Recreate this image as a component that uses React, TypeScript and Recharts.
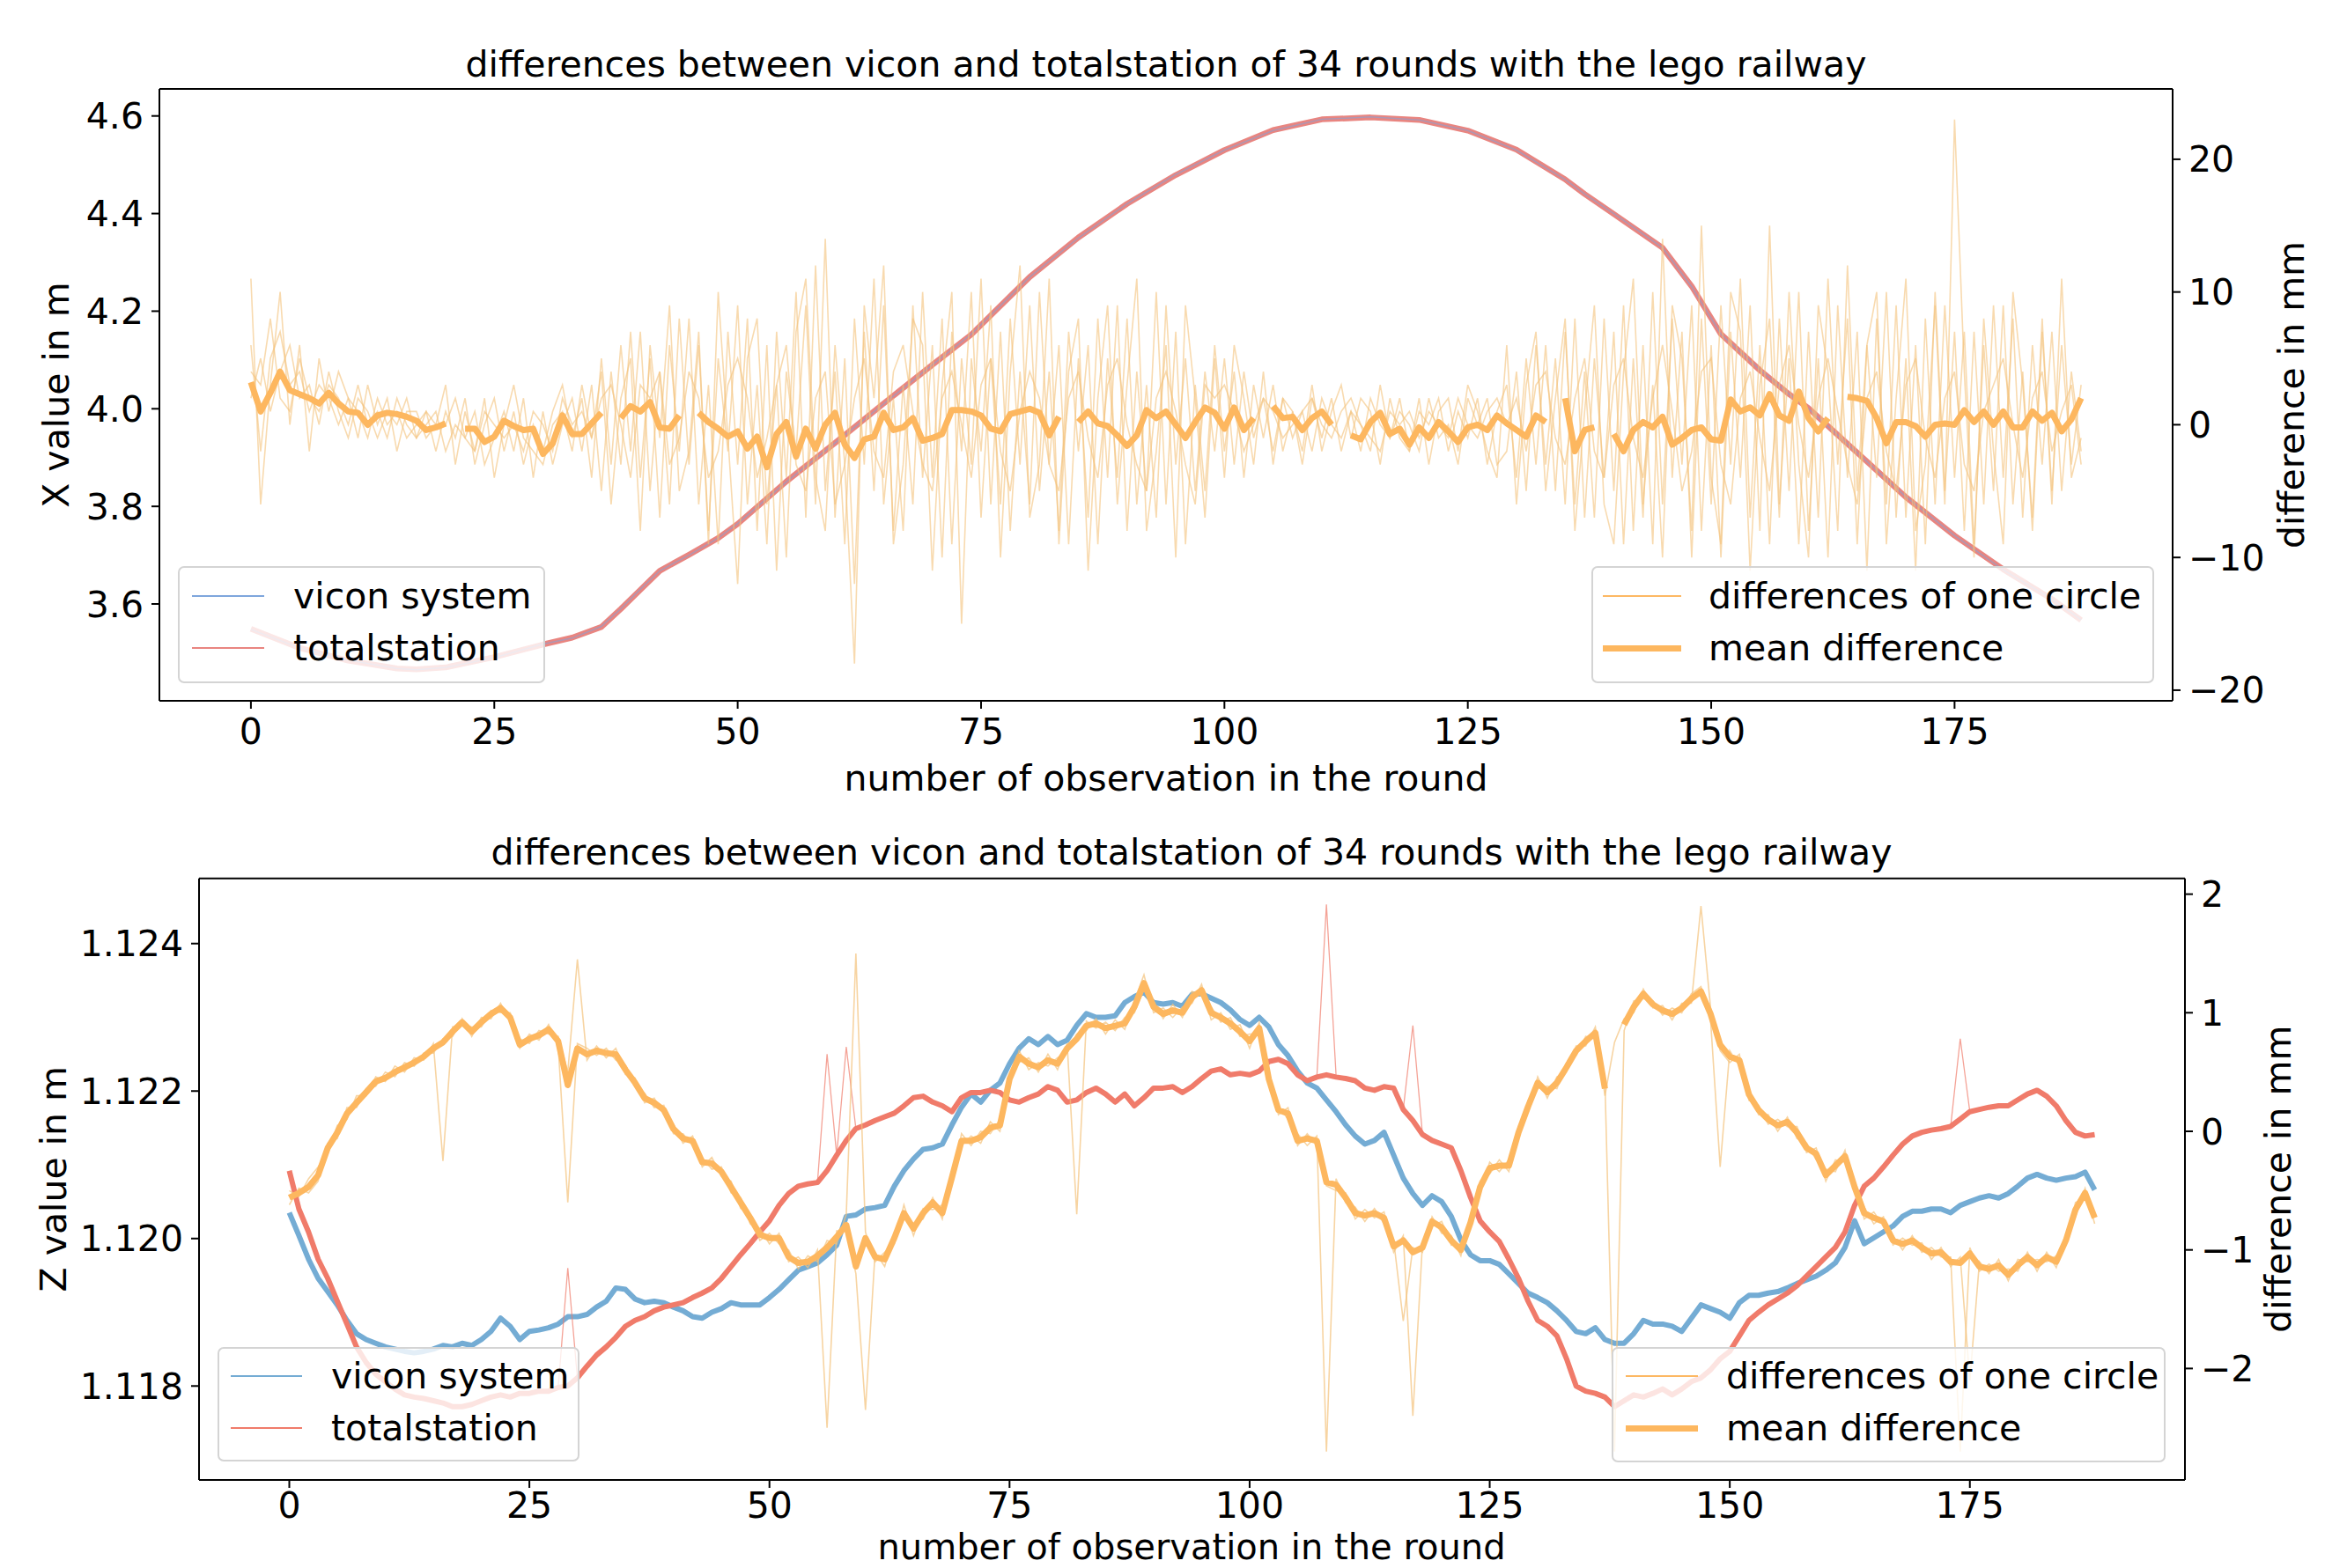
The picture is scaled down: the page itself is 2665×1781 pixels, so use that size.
import React from "react";
import { LineChart, Line, XAxis, YAxis } from "recharts";

// observation number within a round (0..188)
const OBS = Array.from({ length: 189 }, (_, i) => i);

// ---- upper plot: X coordinate (m) ----
const TOP_X_OBS = [0, 5, 10, 15, 17, 20, 25, 30, 33, 36, 38, 40, 42, 45, 48, 50, 55, 60, 65, 70, 74, 80, 85, 90, 95, 100, 105, 110, 115, 120, 125, 130, 135, 137, 140, 145, 148, 151, 155, 158, 160, 165, 170, 175, 180, 185, 188];
const TOP_VICON_X = [3.548, 3.51, 3.485, 3.468, 3.465, 3.47, 3.49, 3.518, 3.53, 3.554, 3.59, 3.63, 3.668, 3.7, 3.735, 3.765, 3.85, 3.93, 4.01, 4.09, 4.153, 4.27, 4.35, 4.42, 4.48, 4.53, 4.57, 4.593, 4.598, 4.592, 4.57, 4.53, 4.47, 4.44, 4.4, 4.33, 4.25, 4.153, 4.08, 4.03, 4.0, 3.91, 3.82, 3.74, 3.67, 3.61, 3.568];
const TOP_TOTAL_X = [3.549, 3.51, 3.484, 3.468, 3.466, 3.47, 3.491, 3.517, 3.531, 3.553, 3.59, 3.629, 3.668, 3.701, 3.735, 3.764, 3.851, 3.93, 4.011, 4.09, 4.152, 4.27, 4.351, 4.42, 4.479, 4.53, 4.571, 4.593, 4.597, 4.592, 4.57, 4.531, 4.47, 4.44, 4.399, 4.33, 4.251, 4.153, 4.079, 4.03, 4.001, 3.91, 3.819, 3.74, 3.671, 3.61, 3.567];

// ---- upper plot: differences (mm) ----
const TOP_MEAN = [
  3.2, 1.0, 2.4, 4.0, 2.6, 2.3, 2.0, 1.6, 2.4, 1.6,
  1.0, 0.9, 0.0, 0.7, 0.9, 0.8, 0.6, 0.3, -0.4, -0.2,
  0.1, null, -0.3, -0.3, -1.3, -0.9, 0.3, -0.1, -0.4, -0.3,
  -2.2, -1.4, 0.7, -0.7, -0.7, 0.1, 0.9, null, 0.5, 1.4,
  1.0, 1.7, -0.2, -0.3, 0.7, null, 0.9, 0.2, -0.3, -0.9,
  -0.5, -1.8, -0.9, -3.2, -0.7, 0.2, -2.4, -0.3, -1.8, 0.0,
  0.9, -1.5, -2.5, -1.1, -0.9, 0.9, -0.4, -0.2, 0.5, -1.2,
  -1.0, -0.7, 1.1, 1.1, 1.0, 0.7, -0.3, -0.5, 0.8, 1.0,
  1.2, 0.9, -0.8, 0.6, null, 0.2, 1.0, 0.1, -0.1, -0.8,
  -1.6, -0.8, 1.1, 0.5, 1.0, 0.0, -1.0, 0.2, 1.3, 0.9,
  -0.3, 1.3, -0.4, 0.5, null, 1.4, 0.5, 0.6, -0.4, 0.5,
  1.0, 0.0, null, -0.8, -1.1, 0.2, 0.9, -0.7, -0.3, -1.5,
  -0.2, -1.0, 0.2, -0.5, -1.3, -0.2, 0.0, -0.4, 0.7, 0.1,
  -0.4, -0.9, 0.7, 0.2, null, 2.0, -2.0, -0.4, -0.2, null,
  -0.7, -2.0, -0.4, 0.2, -0.2, 0.6, -1.5, -1.0, -0.4, -0.2,
  -1.1, -1.2, 1.9, 1.0, 1.3, 0.7, 2.3, 0.7, 0.3, 2.5,
  0.5, -0.5, 0.5, null, 2.1, 2.0, 1.8, 0.5, -1.4, 0.2,
  0.2, -0.1, -0.9, 0.0, 0.1, 0.0, 1.1, 0.2, 1.0, 0.0,
  1.0, -0.2, -0.2, 1.0, 0.3, 0.9, -0.5, 0.4, 2.0,
];
const TOP_ROUND_A = [
  6, -2, 5, 7, 3, 4, 1, 3, 2, 0,
  2, 1, -1, 2, 0, 1, -1, 0, 1, -2,
  1, -1, 2, -3, 0, 2, -2, 1, -3, 0,
  -2, 1, 3, -1, 2, -4, 5, -3, 6, -2,
  7, -5, 4, -6, 8, -3, 6, -8, 5, -2,
  9, -6, 3, -9, 7, -4, 10, -7, 12, -5,
  4, -9, 8, -3, 11, -6, 2, -8, 9, -4,
  6, -10, 7, -2, 10, -7, 5, -6, 8, -3,
  9, -5, 4, -8, 7, -2, 6, -9, 5, -4,
  8, -6, 3, -7, 9, -3, 5, -5, 4, -2,
  5, -3, 4, -1, 2, -2, 2, -1, 1, -2,
  2, 0, -1, 1, -2, 2, 0, -1, 2, -2,
  1, 0, 2, -2, 1, -1, 2, -3, 1, 3,
  -4, 5, -3, 6, -5, 7, -6, 4, -7, 8,
  -5, 9, -8, 6, -9, 14, -4, 7, -10, 8,
  -6, 9, -3, 11, -7, 6, -9, 8, -5, 10,
  -8, 5, -10, 9, -4, 7, -11, 8, -6, 9,
  -7, 6, -9, 10, -5, 7, -8, 7, -6, 9,
  -4, 8, -7, 6, -3, 7, -5, 4, -2,
];
const TOP_ROUND_B = [
  2, 5, 1, 4, 6, 2, 3, 0, 4, 1,
  -1, 2, 1, -1, 1, 0, 2, -1, 0, 1,
  -2, 0, -1, 1, -3, -1, 1, -2, 2, -4,
  1, -3, 0, 2, -2, 3, -5, 4, -3, 7,
  -4, 5, -7, 6, -2, 8, -6, 3, -9, 7,
  -3, 8, -8, 6, -11, 4, -2, 9, -6, 14,
  -7, 5, -12, 7, -5, 9, -8, 3, -6, 10,
  -4, 8, -9, 5, -3, 11, -6, 7, -8, 4,
  -6, 10, -3, 6, -9, 5, -7, 8, -4, 9,
  -8, 4, -5, 10, -6, 7, -9, 3, -5, 6,
  -2, 4, -4, 3, -1, 3, -2, 1, -3, 2,
  -1, 2, -2, 1, 0, -2, 3, -1, 1, 0,
  -2, 2, -1, 0, -3, 2, 0, 2, -3, -2,
  4, -5, 6, -3, 5, -6, 8, -7, 5, -4,
  7, -9, 5, -7, 10, -6, 8, -3, 9, -8,
  6, -10, 7, -4, 9, -8, 15, -6, 5, -9,
  7, -7, 11, -3, 8, -9, 6, -4, 10, -7,
  5, -11, 8, -6, 9, -4, 7, -9, 6, -5,
  9, -6, 4, -8, 7, -5, 6, -3, 3,
];
const TOP_ROUND_C = [
  4, 3, 8, 2, 1, 5, 2, 1, 3, 2,
  0, 3, 0, 1, -1, 2, 0, -1, 1, 0,
  0, 2, -1, -2, 1, 0, -1, 0, -2, 1,
  0, -2, 2, 0, 1, -1, 2, 3, 0, -4,
  3, 2, 4, -3, -1, 4, 2, -4, -2, 3,
  5, 2, -4, -1, 3, 6, -3, -5, 2, 4,
  -6, -3, 2, 5, -2, -4, 4, 6, 1, -3,
  -5, 2, 4, 0, -4, 3, 5, -2, -5, 1,
  4, 2, -3, -5, 2, 4, -1, -4, 3, 5,
  0, -3, -5, 2, 4, 1, -3, -6, 3, 2,
  3, 1, -2, 0, 2, 1, -1, 0, 1, 2,
  0, -1, 1, 2, 0, -1, -2, 1, 0, 1,
  -1, 1, 0, -1, 2, 0, -1, 1, 2, 0,
  2, -2, 3, 4, -1, -3, 2, 5, -2, -4,
  3, 5, -1, -4, 2, 6, 1, -5, -2, 4,
  5, -3, -6, 2, 4, -1, -5, 3, 6, 0,
  -4, 2, 5, 1, -3, -6, 2, 4, -2, -5,
  3, 5, -1, -4, 2, 4, -3, -5, 1, 3,
  5, 0, -4, 2, 4, -2, 1, 3, -3,
];
const TOP_ROUND_D = [
  11, -6, 3, 10, 0, 6, -2, 5, 1, 4,
  2, -1, 3, 0, 2, -2, 1, 1, -1, 0,
  3, -3, 1, -2, 2, -4, 0, 3, -1, -2,
  -3, 0, 1, -2, 3, -1, 4, -6, 2, 5,
  -8, 6, -1, 9, -5, -2, 7, -9, 10, -1,
  -12, 5, 8, -6, 3, -10, 7, 11, -4, -8,
  6, -3, -18, 9, 2, 12, -9, -3, 8, 6,
  -11, 3, 10, -15, 5, -2, 9, -10, 4, 12,
  -7, -3, 11, -9, 4, 8, -11, 2, 9, -6,
  3, 11, -8, -2, 6, -10, 9, 2, -7, 5,
  -4, 6, 2, -3, 4, -3, 2, 1, -2, 3,
  -2, 1, 3, -1, 2, 1, -3, 2, -1, -2,
  2, -3, 1, 2, -2, 3, 1, -2, -4, 6,
  -6, 3, 7, -5, 2, 8, -8, 1, 9, -6,
  -9, 4, 11, -6, 3, -10, 9, 5, -8, 15,
  -4, -9, 10, 7, -11, 3, 8, -7, 10, -3,
  -10, 9, 4, -8, 12, -5, 6, 10, -9, 2,
  11, -8, -3, 9, -6, 23, 4, -10, 8, -2,
  -9, 10, 3, -7, 8, -6, 11, -4, -1,
];

// ---- lower plot: Z coordinate (m) ----
const BOT_VICON_Z = [
  1.12035, 1.12004, 1.11972, 1.11946, 1.11928, 1.1191, 1.11889, 1.11871, 1.11863, 1.11858,
  1.11853, 1.1185, 1.11847, 1.11845, 1.11847, 1.1185, 1.11855, 1.11853, 1.11858, 1.11855,
  1.11863, 1.11874, 1.11892, 1.11881, 1.11863, 1.11874, 1.11876, 1.11879, 1.11884, 1.11894,
  1.11894, 1.11897, 1.11907, 1.11915, 1.11933, 1.11931, 1.11918, 1.11913, 1.11915, 1.11913,
  1.11907, 1.11902, 1.11894, 1.11892, 1.119, 1.11905, 1.11913, 1.1191, 1.1191, 1.1191,
  1.1192, 1.11931, 1.11944, 1.11957, 1.11962, 1.11967, 1.11978, 1.11991, 1.1203, 1.12032,
  1.1204, 1.12042, 1.12045, 1.12071, 1.12092, 1.12108, 1.12121, 1.12123, 1.12128, 1.12154,
  1.12178, 1.12196, 1.12185, 1.12201, 1.12211, 1.12237, 1.12258, 1.12271, 1.12263, 1.12274,
  1.12263, 1.12269, 1.12289, 1.12305, 1.123, 1.123, 1.12302, 1.1232, 1.12328, 1.12334,
  1.1232, 1.12318, 1.1232, 1.12315, 1.12331, 1.12332, 1.12326, 1.1232, 1.1231, 1.12297,
  1.12289, 1.123, 1.12287, 1.12263, 1.12248, 1.12227, 1.12211, 1.12204, 1.12188, 1.12172,
  1.12154, 1.12139, 1.12128, 1.12133, 1.12144, 1.12113, 1.12082, 1.12061, 1.12045, 1.12058,
  1.1205, 1.1203, 1.11998, 1.11978, 1.1197, 1.1197, 1.11965, 1.11952, 1.11939, 1.11926,
  1.1192, 1.11913, 1.11902, 1.11889, 1.11874, 1.11871, 1.11879, 1.11863, 1.11858, 1.11858,
  1.11871, 1.11889, 1.11884, 1.11884, 1.11881, 1.11874, 1.11892, 1.1191, 1.11905, 1.119,
  1.11892, 1.11913, 1.11923, 1.11923, 1.11926, 1.11928, 1.11933, 1.11939, 1.11944, 1.11949,
  1.11957, 1.11967, 1.11988, 1.12024, 1.11993, 1.12001, 1.12009, 1.12017, 1.1203, 1.12037,
  1.12037, 1.1204, 1.1204, 1.12035, 1.12045, 1.1205, 1.12055, 1.12058, 1.12055, 1.12061,
  1.12071, 1.12082, 1.12087, 1.12082, 1.12079, 1.12082, 1.12084, 1.1209, 1.12066,
];
const BOT_TOTAL_Z = [
  1.12092, 1.1204, 1.12009, 1.11972, 1.11946, 1.11915, 1.11884, 1.11853, 1.11832, 1.11816,
  1.11806, 1.11796, 1.11788, 1.11785, 1.11783, 1.1178, 1.11777, 1.11772, 1.11772, 1.11775,
  1.1178, 1.11785, 1.11788, 1.11785, 1.1179, 1.1179, 1.11793, 1.11793, 1.11798, 1.118,
  1.11811, 1.11827, 1.11842, 1.11853, 1.11866, 1.11881, 1.11889, 1.11894, 1.11902, 1.11907,
  1.1191, 1.11913, 1.1192, 1.11926, 1.11933, 1.11946, 1.11962, 1.11978, 1.11993, 1.12009,
  1.12024, 1.12045, 1.12061, 1.12071, 1.12074, 1.12076, 1.12092, 1.12113, 1.12133, 1.12149,
  1.12154, 1.1216, 1.12165, 1.1217, 1.1218, 1.12191, 1.12193, 1.12185, 1.1218, 1.12172,
  1.12191, 1.12198, 1.12198, 1.12201, 1.12198, 1.12188, 1.12185, 1.12191, 1.12196, 1.12206,
  1.12201, 1.12185, 1.12188, 1.12198, 1.12204, 1.12196, 1.12185, 1.12196, 1.1218, 1.12191,
  1.12204, 1.12204, 1.12206, 1.12198, 1.12206, 1.12217, 1.12227, 1.1223, 1.12222, 1.12224,
  1.12222, 1.12227, 1.1224, 1.12243, 1.12237, 1.12222, 1.12214, 1.12219, 1.12222, 1.12219,
  1.12217, 1.12214, 1.12204, 1.12201, 1.12206, 1.12204, 1.12175, 1.1216, 1.12141, 1.12133,
  1.12128, 1.12123, 1.12092, 1.12056, 1.12024, 1.12009, 1.11996, 1.11972, 1.11946, 1.11915,
  1.11889, 1.11881, 1.11868, 1.11837, 1.118, 1.11793, 1.1179, 1.11785, 1.11772, 1.1178,
  1.11788, 1.11785, 1.1179, 1.11796, 1.11788, 1.11796, 1.11806, 1.11811, 1.11822, 1.11837,
  1.11847, 1.11868, 1.11889, 1.119, 1.1191, 1.11918, 1.11926, 1.11936, 1.11949, 1.11962,
  1.11975, 1.11988, 1.12009, 1.12045, 1.12071, 1.12082, 1.12097, 1.12113, 1.12128, 1.12139,
  1.12144, 1.12147, 1.12149, 1.12152, 1.12162, 1.12172, 1.12175, 1.12178, 1.1218, 1.1218,
  1.12188, 1.12196, 1.12201, 1.12193, 1.1218, 1.1216, 1.12144, 1.12139, 1.12141,
];
// single totalstation rounds with outliers
const BOT_TOTAL_SPIKE_OBS = [28, 29, 30, 55, 56, 57, 58, 59, 107, 108, 109, 116, 117, 118, 173, 174, 175];
const BOT_TOTAL_SPIKE_Z = [1.11798, 1.1196, 1.11811, 1.12076, 1.1225, 1.12113, 1.1226, 1.12149, 1.12219, 1.12453, 1.12222, 1.12175, 1.12289, 1.12141, 1.12152, 1.12271, 1.12172];

// ---- lower plot: differences (mm) ----
const BOT_MEAN = [
  -0.56, -0.52, -0.47, -0.37, -0.14, -0.01, 0.15, 0.24, 0.33, 0.42,
  0.45, 0.5, 0.54, 0.58, 0.63, 0.7, 0.75, 0.84, 0.92, 0.84,
  0.92, 0.99, 1.04, 0.96, 0.73, 0.78, 0.81, 0.86, 0.76, 0.39,
  0.7, 0.65, 0.68, 0.66, 0.65, 0.52, 0.41, 0.28, 0.24, 0.18,
  0.02, -0.06, -0.08, -0.26, -0.27, -0.34, -0.47, -0.6, -0.73, -0.87,
  -0.9, -0.9, -1.06, -1.11, -1.1, -1.05, -0.98, -0.89, -0.79, -1.14,
  -0.9, -1.06, -1.08, -0.9, -0.69, -0.82, -0.69, -0.6, -0.69, -0.39,
  -0.08, -0.08, -0.05, 0.03, 0.05, 0.44, 0.63, 0.57, 0.54, 0.6,
  0.57, 0.7, 0.78, 0.89, 0.91, 0.87, 0.89, 0.91, 1.05, 1.25,
  1.05, 0.99, 1.02, 1.0, 1.13, 1.19, 1.0, 0.96, 0.91, 0.84,
  0.76, 0.87, 0.44, 0.18, 0.15, -0.08, -0.06, -0.08, -0.43, -0.45,
  -0.56, -0.69, -0.71, -0.69, -0.73, -0.97, -0.92, -1.02, -0.98, -0.76,
  -0.81, -0.92, -1.0, -0.77, -0.47, -0.31, -0.29, -0.29, -0.01, 0.21,
  0.41, 0.33, 0.41, 0.54, 0.68, 0.76, 0.83, 0.36, null, 0.9,
  1.05, 1.16, 1.07, 1.02, 0.99, 1.04, 1.12, 1.18, 0.99, 0.73,
  0.63, 0.6, 0.31, 0.18, 0.1, 0.05, 0.08, -0.01, -0.14, -0.19,
  -0.37, -0.29, -0.21, -0.47, -0.69, -0.73, -0.76, -0.92, -0.95, -0.92,
  -0.98, -1.03, -1.02, -1.1, -1.11, -1.03, -1.14, -1.16, -1.13, -1.21,
  -1.13, -1.06, -1.13, -1.06, -1.1, -0.92, -0.66, -0.52, -0.73,
];
const BOT_ROUND_A = [
  -0.5, -0.55, -0.4, -0.3, -0.18, 0.05, 0.1, 0.3, 0.3, 0.46,
  0.42, 0.55, 0.5, 0.62, 0.6, 0.74, -0.25, 0.88, 0.9, 0.88,
  0.88, 1.02, 1.0, 1.0, 0.78, 0.74, 0.85, 0.82, 0.8, 0.5,
  1.45, 0.6, 0.72, 0.62, 0.7, 0.48, 0.45, 0.24, 0.28, 0.14,
  0.06, -0.1, -0.04, -0.3, -0.22, -0.38, -0.42, -0.65, -0.7, -0.92,
  -0.86, -0.95, -1.0, -1.16, -1.05, -1.1, -0.92, -0.95, -0.7, 1.5,
  -0.85, -1.1, -1.02, -0.95, -0.62, -0.88, -0.65, -0.66, -0.62, -0.45,
  -0.02, -0.12, 0.0, -0.02, 0.1, 0.4, 0.68, 0.52, 0.58, 0.55,
  0.62, 0.66, 0.82, 0.85, 0.95, 0.82, 0.94, 0.86, 1.1, 1.32,
  1.0, 1.04, 0.96, 1.05, 1.08, 1.24, 0.94, 1.0, 0.86, 0.9,
  0.7, 0.92, 0.4, 0.22, 0.1, -0.02, -0.12, -0.04, -2.7, -0.4,
  -0.6, -0.64, -0.76, -0.65, -0.78, -0.92, -1.6, -0.98, -1.02, -0.72,
  -0.86, -0.88, -1.05, -0.72, -0.52, -0.26, -0.34, -0.24, -0.06, 0.26,
  0.36, 0.38, 0.36, 0.58, 0.64, 0.8, 0.78, 0.42, -2.7, 0.85,
  1.1, 1.12, 1.1, 0.98, 1.04, 1.0, 1.16, 1.22, 0.94, -0.3,
  0.68, 0.55, 0.36, 0.14, 0.14, 0.0, 0.12, -0.06, -0.1, -0.24,
  -0.32, -0.34, -0.16, -0.52, -0.64, -0.78, -0.72, -0.96, -0.9, -0.96,
  -0.94, -1.08, -0.98, -1.14, -1.06, -2.1, -1.1, -1.2, -1.08, -1.26,
  -1.08, -1.1, -1.08, -1.1, -1.05, -0.96, -0.6, -0.56, -0.68,
];
const BOT_ROUND_B = [
  -0.62, -0.48, -0.52, -0.42, -0.1, -0.06, 0.2, 0.2, 0.36, 0.38,
  0.5, 0.46, 0.58, 0.55, 0.66, 0.66, 0.78, 0.8, 0.95, 0.8,
  0.96, 0.95, 1.08, 0.92, 0.7, 0.82, 0.77, 0.9, 0.72, -0.6,
  0.74, 0.7, 0.64, 0.7, 0.6, 0.56, 0.38, 0.32, 0.2, 0.22,
  -0.02, -0.02, -0.12, -0.22, -0.32, -0.3, -0.52, -0.56, -0.78, -0.82,
  -0.95, -0.86, -1.1, -1.06, -1.15, -1.0, -2.5, -0.84, -0.84, -1.2,
  -2.35, -1.02, -1.14, -0.86, -0.74, -0.78, -0.74, -0.56, -0.74, -0.34,
  -0.12, -0.04, -0.1, 0.08, 0.0, 0.48, 0.58, 0.62, 0.5, 0.65,
  0.52, 0.74, -0.7, 0.93, 0.87, 0.92, 0.85, 0.96, 1.0, 1.2,
  1.1, 0.95, 1.07, 0.96, 1.18, 1.14, 1.05, 0.92, 0.96, 0.8,
  0.82, 0.82, 0.48, 0.14, 0.2, -0.12, -0.02, -0.12, -0.46, -0.5,
  -0.52, -0.74, -0.66, -0.73, -0.68, -1.02, -0.88, -2.4, -0.94, -0.8,
  -0.76, -0.96, -0.95, -0.82, -0.42, -0.36, -0.24, -0.34, 0.04, 0.16,
  0.46, 0.28, 0.46, 0.5, 0.72, 0.72, 0.88, 0.3, 0.75, 0.95,
  1.0, 1.2, 1.04, 1.06, 0.94, 1.08, 1.08, 1.9, 1.04, 0.68,
  0.58, 0.65, 0.26, 0.22, 0.06, 0.1, 0.04, 0.04, -0.18, -0.14,
  -0.42, -0.24, -0.26, -0.42, -0.74, -0.68, -0.8, -0.88, -1.0, -0.88,
  -1.02, -0.98, -1.06, -1.06, -2.7, -0.98, -1.18, -1.12, -1.18, -1.16,
  -1.18, -1.02, -1.18, -1.02, -1.15, -0.88, -0.72, -0.48, -0.78,
];

const TITLE = "differences between vicon and totalstation of 34 rounds with the lego railway";
const X_TICKS = [0, 25, 50, 75, 100, 125, 150, 175];

const FONT = "'DejaVu Sans', sans-serif";
const FS = 41;
const C_VICON_TOP = "#7EA6DC";
const C_TOTAL_TOP = "#E98580";
const C_VICON_BOT = "#74ACD4";
const C_TOTAL_BOT = "#F07B6A";
const C_ROUND = "#F4C27A";
const C_ROUND_LEG = "#FDB863";
const C_MEAN = "#FDB75F";

const topRows = OBS.map((i) => {
  const k = TOP_X_OBS.indexOf(i);
  return {
    i,
    vx: k >= 0 ? TOP_VICON_X[k] : undefined,
    tx: k >= 0 ? TOP_TOTAL_X[k] : undefined,
    mean: TOP_MEAN[i],
    a: TOP_ROUND_A[i],
    b: TOP_ROUND_B[i],
    c: TOP_ROUND_C[i],
    d: TOP_ROUND_D[i],
  };
});

const botRows = OBS.map((i) => {
  const k = BOT_TOTAL_SPIKE_OBS.indexOf(i);
  return {
    i,
    vz: BOT_VICON_Z[i],
    tz: BOT_TOTAL_Z[i],
    ts: k >= 0 ? BOT_TOTAL_SPIKE_Z[k] : undefined,
    mean: BOT_MEAN[i],
    a: BOT_ROUND_A[i],
    b: BOT_ROUND_B[i],
  };
});

const minus = (v: number) => String(v).replace("-", "\u2212");
const tickStyle = { fontSize: FS, fill: "#000", fontFamily: FONT };
const axisLine = { stroke: "#000", strokeWidth: 2 };

type Entry = { label: string; color: string; width: number };

function LegendBox(props: { left: number; top: number; width: number; height: number; rows: number[]; entries: Entry[]; sx: number; sw: number; tx: number }) {
  const { left, top, width, height, rows, entries, sx, sw, tx } = props;
  return (
    <div
      style={{
        position: "absolute",
        left,
        top,
        width,
        height,
        boxSizing: "border-box",
        background: "rgba(255,255,255,0.8)",
        border: "2px solid #d4d4d4",
        borderRadius: 7,
      }}
    >
      {entries.map((e, k) => (
        <React.Fragment key={e.label}>
          <div
            style={{
              position: "absolute",
              left: sx - 2,
              top: rows[k] - 2 - e.width / 2,
              width: sw,
              height: e.width,
              background: e.color,
            }}
          />
          <div
            style={{
              position: "absolute",
              left: tx - 2,
              top: rows[k] - 2 - 20.5,
              fontSize: FS,
              lineHeight: "41px",
              whiteSpace: "nowrap",
              color: "#000",
            }}
          >
            {e.label}
          </div>
        </React.Fragment>
      ))}
    </div>
  );
}

export default function App() {
  return (
    <div style={{ position: "absolute", left: 0, top: 0, width: 2665, height: 1781, background: "#fff", fontFamily: FONT, overflow: "hidden" }}>
      <div style={{ position: "absolute", left: 0, top: 0 }}>
        <LineChart width={2665} height={900} data={topRows} margin={{ top: 100, right: 98, bottom: 44, left: 81 }}>
          <XAxis dataKey="i" type="number" domain={[-9.4, 197.4]} allowDataOverflow ticks={X_TICKS} interval={0} height={60} tick={tickStyle} tickSize={9} tickMargin={11} axisLine={axisLine} tickLine={axisLine} />
          <XAxis xAxisId="top" dataKey="i" type="number" orientation="top" domain={[-9.4, 197.4]} allowDataOverflow height={1} ticks={[]} tick={false} tickLine={false} axisLine={axisLine} />
          <YAxis yAxisId="m" width={100} domain={[3.4016, 4.6554]} allowDataOverflow ticks={[3.6, 3.8, 4.0, 4.2, 4.4, 4.6]} interval={0} tickFormatter={(v: number) => v.toFixed(1)} tick={tickStyle} tickSize={9} tickMargin={9} axisLine={axisLine} tickLine={axisLine} />
          <YAxis yAxisId="mm" orientation="right" width={100} domain={[-20.8, 25.3]} allowDataOverflow ticks={[-20, -10, 0, 10, 20]} interval={0} tickFormatter={minus} tick={tickStyle} tickSize={9} tickMargin={9} axisLine={axisLine} tickLine={axisLine} />
          <Line yAxisId="m" dataKey="tx" stroke={C_TOTAL_TOP} strokeWidth={6.5} strokeLinejoin="round" connectNulls dot={false} activeDot={false} isAnimationActive={false} />
          <Line yAxisId="m" dataKey="vx" stroke={C_VICON_TOP} strokeWidth={1.5} strokeOpacity={0.55} connectNulls dot={false} activeDot={false} isAnimationActive={false} />
          {(["a", "b", "c", "d"] as const).map((k) => (
            <Line key={k} yAxisId="mm" dataKey={k} stroke={C_ROUND} strokeWidth={1.6} strokeOpacity={0.6} dot={false} activeDot={false} isAnimationActive={false} />
          ))}
          <Line yAxisId="mm" dataKey="mean" stroke={C_MEAN} strokeWidth={7} strokeLinejoin="round" dot={false} activeDot={false} isAnimationActive={false} />
        </LineChart>
      </div>

      <div style={{ position: "absolute", left: 0, top: 900 }}>
        <LineChart width={2665} height={881} data={botRows} margin={{ top: 96.7, right: 84, bottom: 40, left: 126 }}>
          <XAxis dataKey="i" type="number" domain={[-9.4, 197.4]} allowDataOverflow ticks={X_TICKS} interval={0} height={60} tick={tickStyle} tickSize={9} tickMargin={5} axisLine={axisLine} tickLine={axisLine} />
          <XAxis xAxisId="top" dataKey="i" type="number" orientation="top" domain={[-9.4, 197.4]} allowDataOverflow height={1} ticks={[]} tick={false} tickLine={false} axisLine={axisLine} />
          <YAxis yAxisId="m" width={100} domain={[1.116726, 1.124884]} allowDataOverflow ticks={[1.118, 1.12, 1.122, 1.124]} interval={0} tickFormatter={(v: number) => v.toFixed(3)} tick={tickStyle} tickSize={9} tickMargin={9} axisLine={axisLine} tickLine={axisLine} />
          <YAxis yAxisId="mm" orientation="right" width={100} domain={[-2.94, 2.133]} allowDataOverflow ticks={[-2, -1, 0, 1, 2]} interval={0} tickFormatter={minus} tick={tickStyle} tickSize={9} tickMargin={9} axisLine={axisLine} tickLine={axisLine} />
          <Line yAxisId="m" dataKey="vz" stroke={C_VICON_BOT} strokeWidth={6} strokeLinejoin="round" dot={false} activeDot={false} isAnimationActive={false} />
          <Line yAxisId="m" dataKey="tz" stroke={C_TOTAL_BOT} strokeWidth={6} strokeLinejoin="round" dot={false} activeDot={false} isAnimationActive={false} />
          <Line yAxisId="m" dataKey="ts" stroke={C_TOTAL_BOT} strokeWidth={1.3} strokeOpacity={0.7} dot={false} activeDot={false} isAnimationActive={false} />
          <Line yAxisId="mm" dataKey="a" stroke={C_ROUND} strokeWidth={1.6} strokeOpacity={0.7} dot={false} activeDot={false} isAnimationActive={false} />
          <Line yAxisId="mm" dataKey="b" stroke={C_ROUND} strokeWidth={1.6} strokeOpacity={0.7} dot={false} activeDot={false} isAnimationActive={false} />
          <Line yAxisId="mm" dataKey="mean" stroke={C_MEAN} strokeWidth={7} strokeLinejoin="round" dot={false} activeDot={false} isAnimationActive={false} />
        </LineChart>
      </div>

      <svg width={2665} height={1781} style={{ position: "absolute", left: 0, top: 0, pointerEvents: "none" }}>
        <g fontFamily={FONT} fontSize={FS} fill="#000" textAnchor="middle">
          <text x={1324} y={86.7}>{TITLE}</text>
          <text x={1324} y={898}>number of observation in the round</text>
          <text x={78} y={448.5} transform="rotate(-90 78 448.5)">X value in m</text>
          <text x={2616} y={448.5} transform="rotate(-90 2616 448.5)">difference in mm</text>
          <text x={1353} y={982.3}>{TITLE}</text>
          <text x={1353} y={1771} fontSize={40}>number of observation in the round</text>
          <text x={75} y={1339.2} transform="rotate(-90 75 1339.2)">Z value in m</text>
          <text x={2601} y={1339.2} transform="rotate(-90 2601 1339.2)">difference in mm</text>
        </g>
      </svg>

      <LegendBox left={202} top={643} width={417} height={133} rows={[34, 93]} sx={16} sw={82} tx={131}
        entries={[{ label: "vicon system", color: C_VICON_TOP, width: 2.5 }, { label: "totalstation", color: C_TOTAL_TOP, width: 2.5 }]} />
      <LegendBox left={1807} top={643} width={639} height={133} rows={[34, 93]} sx={13} sw={89} tx={133}
        entries={[{ label: "differences of one circle", color: C_ROUND_LEG, width: 2.5 }, { label: "mean difference", color: C_MEAN, width: 7 }]} />
      <LegendBox left={247} top={1530} width={411} height={130} rows={[33, 92]} sx={15} sw={81} tx={129}
        entries={[{ label: "vicon system", color: C_VICON_BOT, width: 2.5 }, { label: "totalstation", color: C_TOTAL_BOT, width: 2.5 }]} />
      <LegendBox left={1830} top={1530} width={629} height={131} rows={[33, 92]} sx={16} sw={82} tx={130}
        entries={[{ label: "differences of one circle", color: C_ROUND_LEG, width: 2.5 }, { label: "mean difference", color: C_MEAN, width: 7 }]} />
    </div>
  );
}
